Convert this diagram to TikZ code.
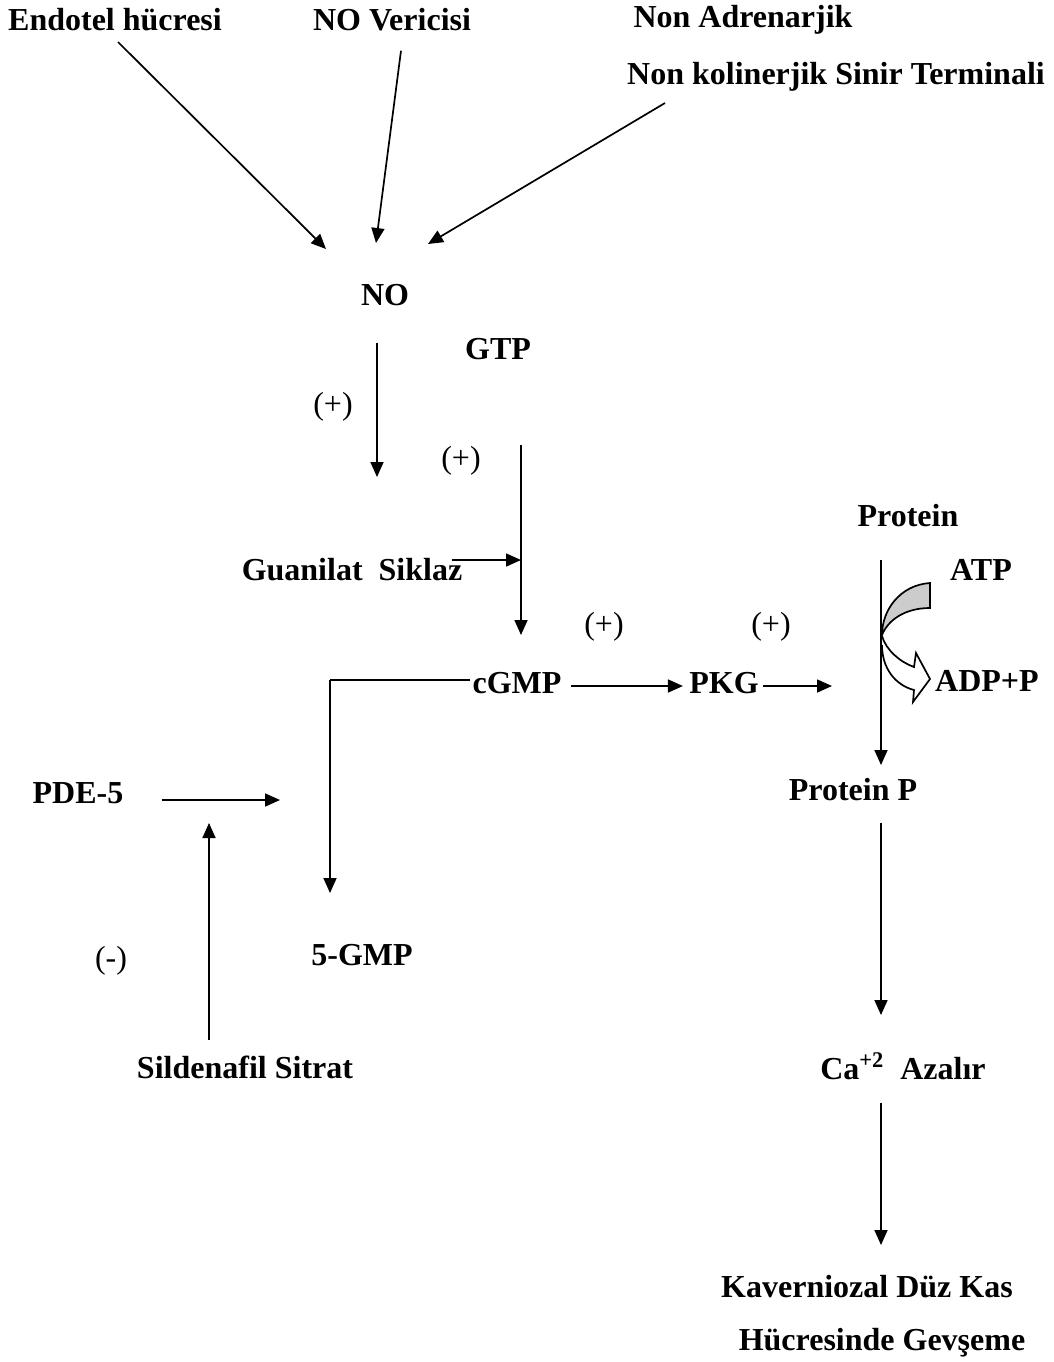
\documentclass[tikz,border=0pt]{standalone}
\usepackage{fontspec}
\setmainfont{Liberation Serif}
\usetikzlibrary{arrows.meta, positioning, calc}
\tikzset{
  lbl/.style={font=\fontsize{16}{19}\selectfont\bfseries, inner sep=1pt},
  sgn/.style={font=\fontsize{16}{19}\selectfont, inner sep=1pt},
  arr/.style={-{Triangle[length=7.5pt, width=6.5pt]}, line width=0.85pt},
  ln/.style={line width=0.85pt},
}
\begin{document}
\begin{tikzpicture}[x=0.5pt, y=-0.5pt]
    \useasboundingbox (0,0) rectangle (1054,1362);
    % sources
    \node[lbl] (endo) at (115,20) {Endotel hücresi};
    \node[lbl] (donor) at (392,20) {NO Vericisi};
    \node[lbl] (nanc1) at (743,20) {Non Adrenarjik};
    \node[lbl] (nanc2) at (836,77) {Non kolinerjik Sinir Terminali};
    \node[lbl] (no) at (385,295) {NO};
    \node[lbl] (gtp) at (498,349) {GTP};
    \node[lbl] (gc) at (352,570) {Guanilat\ \ Siklaz};
    \node[lbl] (cgmp) at (517,683) {cGMP};
    \node[lbl] (pkg) at (724,683) {PKG};
    \node[lbl] (pde) at (78,793) {PDE-5};
    \node[lbl] (gmp) at (362,955) {5-GMP};
    \node[lbl] (sild) at (245,1067) {Sildenafil Sitrat};
    \node[lbl] (prot) at (908,516) {Protein};
    \node[lbl] (atp) at (981,570) {ATP};
    \node[lbl] (adp) at (987,681) {ADP+P};
    \node[lbl] (protp) at (853,790) {Protein P};
    \node[lbl] (ca) at (903,1066) {Ca\textsuperscript{+2}\ \ Azalır};
    \node[lbl] (kav1) at (867,1287) {Kaverniozal Düz Kas};
    \node[lbl] (kav2) at (882,1343) {Hücresinde Gevşeme};
    % signs
    \node[sgn] (p1) at (333,407) {(+)};
    \node[sgn] (p2) at (461,461) {(+)};
    \node[sgn] (p3) at (604,627) {(+)};
    \node[sgn] (p4) at (771,627) {(+)};
    \node[sgn] (m1) at (111,961) {(-)};
    % free ends
    \coordinate (nobot) at (377,343);
    \coordinate (gcin) at (377,477);
    \coordinate (gtpbot) at (521,445);
    \coordinate (gtpend) at (521,635);
    \coordinate (gcmid) at (521,560);
    \coordinate (corner) at (330,680);
    \coordinate (gmpin) at (330,893);
    \coordinate (pkgend) at (832,686);
    \coordinate (ptop) at (881,560);
    \coordinate (pend) at (881,765);
    \coordinate (pdeend) at (280,800);
    \coordinate (inhib) at (209,823);
    \coordinate (sildtop) at (209,1040);
    \draw[arr] (118,42) -- (326,249);
    \draw[arr] (donor.south) ++(9,17) -- (376,243);
    \draw[arr] (665,103) -- (428,244);
    \draw[arr] (nobot) -- (gcin);
    \draw[arr] (gtpbot) -- (gtpend);
    \draw[arr] (gc.east) ++(-13,-10) -- (gcmid);
    \draw[ln] (cgmp.west) ++(0,-3) -- (corner);
    \draw[arr] (corner) -- (gmpin);
    \draw[arr] (cgmp.east) ++(7,3) -- ($(pkg.west)+(-4,3)$);
    \draw[arr] (pkg.east) ++(2,3) -- (pkgend);
    \draw[arr] (ptop) -- (pend);
    \draw[arr] (pde.east) ++(36,7) -- (pdeend);
    \draw[arr] (sildtop) -- (inhib);
    \draw[arr] (881,823) -- (881,1015);
    \draw[arr] (881,1103) -- (881,1245);
    % ATP -> ADP+P
    \draw[ln, fill=gray!40] (930,583) .. controls (900,585) and (882,610) .. (882,635)
      .. controls (888,620) and (905,608) .. (930,608) -- cycle;
    \draw[ln, fill=white] (882,636) .. controls (886,650) and (900,662) .. (914,667)
      -- (916,653) -- (930,679) -- (913,702) -- (914,690)
      .. controls (895,685) and (882,668) .. (882,645);
\end{tikzpicture}
\end{document}
